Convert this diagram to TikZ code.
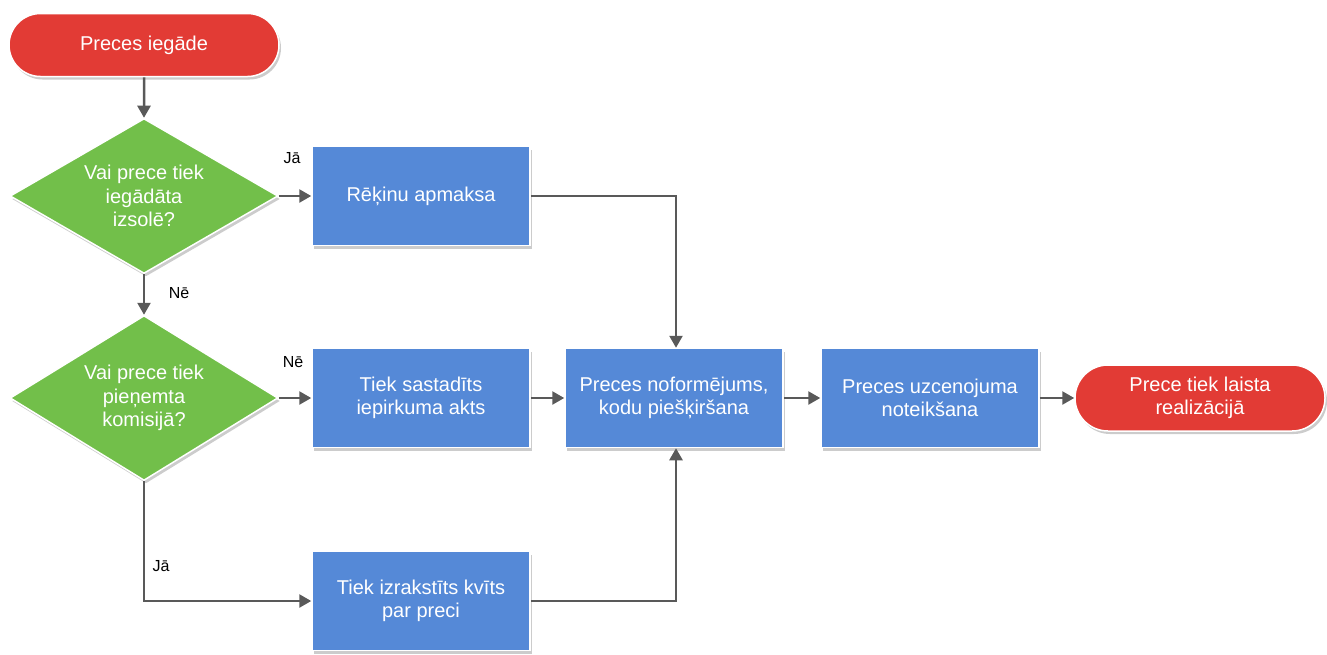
\documentclass[tikz,border=0pt]{standalone}
\usepackage{fontspec}
\setmainfont{Liberation Sans}
\usetikzlibrary{shapes.geometric,shapes.misc,arrows.meta,shadows}
\definecolor{termred}{HTML}{E23B35}
\definecolor{decgreen}{HTML}{72BF4A}
\definecolor{procblue}{HTML}{5589D7}
\definecolor{linegray}{HTML}{595959}
\begin{document}
\begin{tikzpicture}[x=1pt,y=-1pt,
  base/.style={draw=white,line width=1.5pt,text=white,font=\fontsize{20}{23.5}\selectfont,align=center,inner sep=0pt,
    drop shadow={shadow xshift=2pt,shadow yshift=-3pt,opacity=0.2,fill=black}},
  term/.style={base,fill=termred,rounded rectangle},
  dec/.style={base,fill=decgreen,diamond,minimum width=268pt,minimum height=155pt,aspect=1.73},
  proc/.style={base,fill=procblue,rectangle,minimum width=218pt,minimum height=99pt},
  conn/.style={draw=linegray,line width=2.5pt,-{Triangle[length=12pt,width=13pt]}},
  lbl/.style={font=\fontsize{16}{18}\selectfont,text=black}]
\useasboundingbox (0,0) rectangle (1327,654);
\node[term,minimum width=270pt,minimum height=63pt] (start) at (144,45) {Preces iegāde};
\node[dec,minimum height=155pt] (d1) at (144,196) {Vai prece tiek\\iegādāta\\izsolē?};
\node[dec,minimum height=165pt] (d2) at (144,398) {Vai prece tiek\\pieņemta\\komisijā?};
\node[proc] (b1) at (421,196) {Rēķinu apmaksa};
\node[proc] (b2) at (421,398) {Tiek sastadīts\\iepirkuma akts};
\node[proc] (b3) at (674,398) {Preces noformējums,\\kodu piešķiršana};
\node[proc] (b4) at (930,398) {Preces uzcenojuma\\noteikšana};
\node[term,minimum width=250pt,minimum height=66pt] (end) at (1200,398) {Prece tiek laista\\realizācijā};
\node[proc] (b5) at (421,601) {Tiek izrakstīts kvīts\\par preci};
\coordinate (c1) at (676,196);
\coordinate (c2) at (144,601);
\coordinate (c3) at (676,601);
\draw[conn] (start) -- (d1);
\draw[conn] (d1) -- (b1);
\draw[conn] (d1) -- (d2);
\draw[conn] (d2) -- (b2);
\draw[conn] (b2) -- (b3);
\draw[conn] (b3) -- (b4);
\draw[conn] (b4) -- (end);
\draw[conn] (b1.east) -- (c1) -- (b3.north -| c1);
\draw[conn] (d2.south) -- (c2) -- (b5.west);
\draw[conn] (b5.east) -- (c3) -- (b3.south -| c3);
\node[lbl] (l1) at (292,158) {Jā};
\node[lbl] (l2) at (179,293) {Nē};
\node[lbl] (l3) at (293,362) {Nē};
\node[lbl] (l4) at (161,566) {Jā};
\end{tikzpicture}
\end{document}
